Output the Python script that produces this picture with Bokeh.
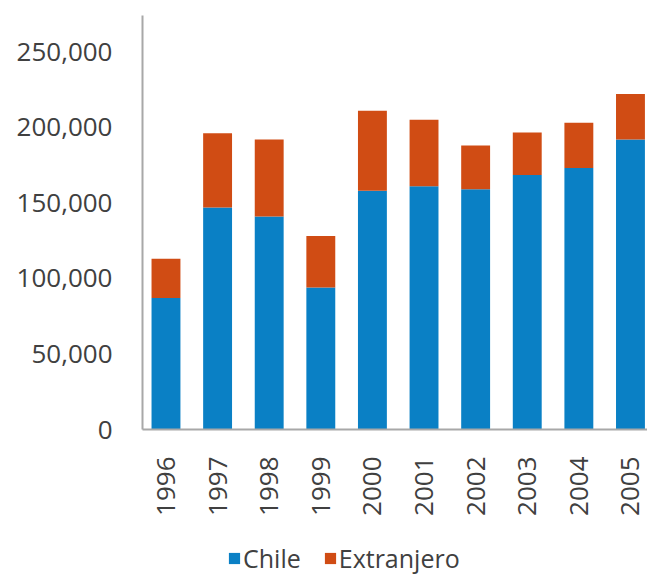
import math
from bokeh.plotting import figure
from bokeh.layouts import column
from bokeh.models import (Range1d, FixedTicker, NumeralTickFormatter, Legend,
                          LegendItem, ColumnDataSource)
from bokeh.embed import file_html
from bokeh.resources import INLINE

years = ["1996", "1997", "1998", "1999", "2000", "2001", "2002", "2003", "2004", "2005"]
chile = [87000, 147000, 141000, 94000, 158000, 161000, 159000, 168500, 173000, 192000]
extranjero = [26000, 49000, 51000, 34000, 53000, 44000, 29000, 28000, 30000, 30000]
y_ticks = [0, 50000, 100000, 150000, 200000, 250000]
series_names = ["Chile", "Extranjero"]

BLUE = "#0a80c5"
ORANGE = "#d04c14"
TEXT = "#404040"
AXIS = "#a8a8a8"
FONT = "Open Sans"

xs = list(range(len(years)))
src = ColumnDataSource(dict(x=xs, chile=chile, extranjero=extranjero))

p = figure(width=647, height=529,
           min_border_left=142, min_border_right=0, min_border_top=15,
           min_border_bottom=100,
           x_range=Range1d(-0.455, 9.33), y_range=Range1d(0, 274000),
           output_backend="svg", toolbar_location=None)

rs = p.vbar_stack(["chile", "extranjero"], x="x", width=0.56, color=[BLUE, ORANGE],
                  line_color=None, source=src)

p.outline_line_color = None
p.xgrid.visible = False
p.ygrid.visible = False
p.background_fill_color = "white"
p.border_fill_color = "white"

for ax in (p.xaxis[0], p.yaxis[0]):
    ax.axis_line_color = AXIS
    ax.axis_line_width = 2
    ax.major_tick_line_color = None
    ax.minor_tick_line_color = None
    ax.major_tick_out = 0
    ax.major_tick_in = 0
    ax.major_label_text_font = FONT
    ax.major_label_text_font_size = "26px"
    ax.major_label_text_color = TEXT

p.yaxis[0].ticker = FixedTicker(ticks=y_ticks)
p.yaxis[0].formatter = NumeralTickFormatter(format="0,0")
p.yaxis[0].major_label_standoff = 30

p.xaxis[0].ticker = FixedTicker(ticks=xs)
p.xaxis[0].major_label_overrides = {i: y for i, y in enumerate(years)}
p.xaxis[0].major_label_orientation = math.pi / 2
p.xaxis[0].major_label_standoff = 27

# Legend strip below the chart
p2 = figure(width=647, height=48, min_border=0, min_border_left=0,
            min_border_right=0, min_border_top=0, min_border_bottom=0,
            x_range=Range1d(0, 1), y_range=Range1d(0, 1),
            x_axis_location=None, y_axis_location=None,
            output_backend="svg", toolbar_location=None)
p2.outline_line_color = None
p2.xgrid.visible = False
p2.ygrid.visible = False
p2.background_fill_color = "white"
p2.border_fill_color = "white"
d1 = p2.vbar(x=[5], top=[5], bottom=[4], width=0.5, color=BLUE, line_color=None)
d2 = p2.vbar(x=[6], top=[5], bottom=[4], width=0.5, color=ORANGE, line_color=None)

legend = Legend(items=[LegendItem(label=series_names[0], renderers=[d1]),
                       LegendItem(label=series_names[1], renderers=[d2])],
                orientation="horizontal", location=(85, 2),
                glyph_width=14, glyph_height=14, label_standoff=2, spacing=22,
                padding=0, margin=0, border_line_color=None,
                background_fill_alpha=0,
                label_text_font=FONT, label_text_font_size="25px",
                label_text_color=TEXT)
p2.add_layout(legend, "center")

layout = column(p, p2, spacing=0)
open("out.html", "w").write(file_html(layout, INLINE))
